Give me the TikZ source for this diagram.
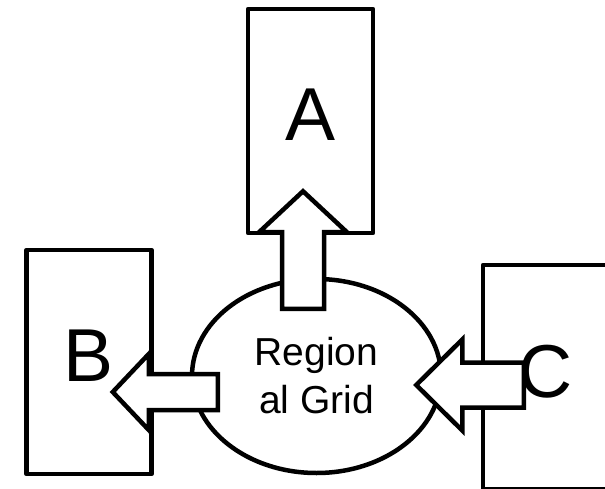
\documentclass[tikz,border=0pt]{standalone}
\usepackage{fontspec}
\setmainfont{Liberation Sans}
\usetikzlibrary{calc}
\usetikzlibrary{shapes.geometric}

\tikzset{
  sitebox/.style={draw, line width=4.5pt, line join=round, minimum width=125pt, minimum height=224pt, inner sep=0pt, text depth=12pt, font=\fontsize{75}{80}\selectfont},
  hubnode/.style={draw, ellipse, line width=4.5pt, minimum width=249pt, minimum height=194pt, inner sep=0pt, align=center, font=\fontsize{39}{48}\selectfont},
  fatarrow/.style n args={3}{draw, fill=white, line width=4.5pt, line join=miter,
    to path={
      ($(\tikztostart)!#1!90:(\tikztotarget)$)
      -- ($($(\tikztotarget)!#3!(\tikztostart)$)!#1!90:(\tikztotarget)$)
      -- ($($(\tikztotarget)!#3!(\tikztostart)$)!#2!90:(\tikztotarget)$)
      -- (\tikztotarget)
      -- ($($(\tikztotarget)!#3!(\tikztostart)$)!#2!-90:(\tikztotarget)$)
      -- ($($(\tikztotarget)!#3!(\tikztostart)$)!#1!-90:(\tikztotarget)$)
      -- ($(\tikztostart)!#1!-90:(\tikztotarget)$)
      -- cycle}}
}

\begin{document}
\begin{tikzpicture}[x=1pt, y=-1pt]
\useasboundingbox (0, 0) rectangle (605, 489);

\node (A) [sitebox] at (310.5, 121) {A};
\node (B) [sitebox] at (89, 362) {B};
\node (C) [sitebox] at (545.5, 377) {C};
\node (hub) [hubnode] at (316.5, 376) {Region\\al Grid};

\draw [fatarrow={21pt}{44pt}{41pt}] ([shift={(-13.5, 32)}]hub.north) to ([shift={(-7.5, -44)}]A.south);
\draw [fatarrow={18pt}{38pt}{36pt}] ([shift={(28, 16)}]hub.west) to ([shift={(-41, 30)}]B.east);
\draw [fatarrow={22.5pt}{45.5pt}{46pt}] ([shift={(43, 8)}]C.west) to ([shift={(-27, 9)}]hub.east);
\end{tikzpicture}
\end{document}
